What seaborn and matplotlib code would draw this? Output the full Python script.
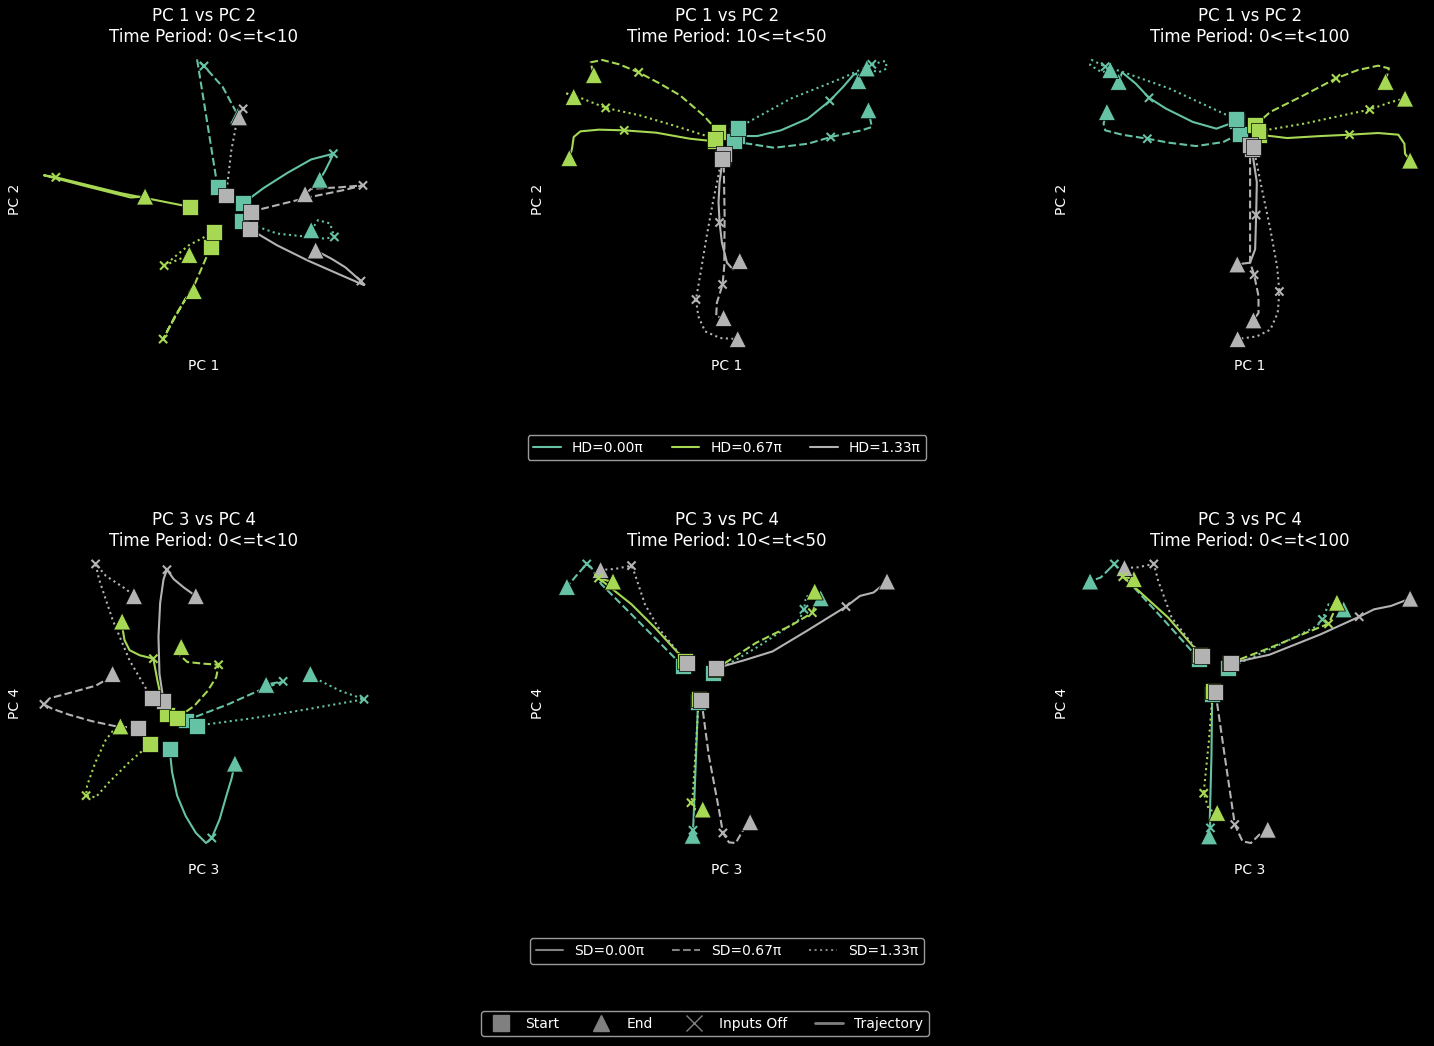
import matplotlib
matplotlib.use("Agg")
import numpy as np
import pandas as pd
import matplotlib.pyplot as plt
import seaborn as sns
from matplotlib.lines import Line2D

# ---------------- data ----------------
HD_LABELS = ["HD=0.00π", "HD=0.67π", "HD=1.33π"]
SD_LABELS = ["SD=0.00π", "SD=0.67π", "SD=1.33π"]
HD_COLORS = ["#66c2a5", "#a6d854", "#b3b3b3"]
SD_DASHES = ["", (3.7, 1.6), (1, 1.65)]
PERIODS = ["0<=t<10", "10<=t<50", "0<=t<100"]
ROW_PCS = [("PC 1", "PC 2"), ("PC 3", "PC 4")]

# Trajectory order in each panel: (HD0,SD0),(HD0,SD1),(HD0,SD2),(HD1,SD0),...,(HD2,SD2)
# PC scores (arbitrary units, second coordinate plotted on an inverted axis)
tl_paths = [
    [(660, 455), (720, 410), (790, 365), (860, 325), (925, 308), (915, 330), (900, 360), (885, 385)],
    [(585, 408), (560, 250), (525, 30), (545, 48), (600, 110), (645, 195)],
    [(655, 508), (760, 545), (900, 560), (928, 555), (915, 515), (880, 505), (860, 535)],
    [(505, 466), (300, 425), (110, 378), (75, 372), (200, 405), (330, 438), (372, 435)],
    [(565, 585), (520, 690), (460, 790), (425, 858), (445, 820), (490, 740), (515, 715)],
    [(575, 540), (500, 580), (440, 630), (428, 640), (470, 622), (502, 608)],
    [(680, 532), (760, 580), (850, 625), (940, 665), (1015, 698), (1006, 686), (960, 645), (920, 620), (873, 595)],
    [(682, 480), (850, 438), (960, 415), (1012, 402), (940, 408), (860, 412), (842, 428)],
    [(610, 432), (625, 300), (640, 220), (660, 175), (648, 200)],
]
tl_off = [4, 3, 3, 2, 3, 3, 5, 3, 3]

tm_paths = [
    [(590, 262), (650, 262), (720, 245), (800, 210), (865, 157), (905, 115), (935, 80), (945, 75), (950, 98)],
    [(580, 278), (700, 297), (800, 285), (868, 265), (960, 245), (990, 235), (980, 185)],
    [(592, 238), (750, 150), (900, 90), (990, 48), (1030, 38), (1035, 60), (1010, 72), (975, 60)],
    [(525, 278), (450, 270), (350, 252), (255, 245), (180, 243), (125, 248), (105, 265), (100, 300), (92, 328)],
    [(535, 250), (490, 200), (420, 140), (360, 105), (298, 72), (240, 48), (190, 35), (155, 42), (165, 80)],
    [(525, 270), (400, 230), (300, 200), (200, 178), (130, 150), (85, 135), (105, 145)],
    [(548, 325), (538, 400), (535, 460), (538, 520), (545, 580), (560, 640), (578, 660), (598, 635)],
    [(550, 315), (553, 500), (552, 650), (547, 705), (530, 760), (528, 800), (550, 805)],
    [(545, 330), (520, 450), (500, 560), (480, 680), (468, 750), (475, 800), (495, 845), (540, 865), (592, 868)],
]
tm_off = [4, 3, 3, 3, 4, 3, 3, 3, 4]

tr_paths = [
    [(500, 218), (440, 240), (370, 220), (290, 180), (240, 148), (200, 105), (160, 72), (150, 100)],
    [(510, 255), (460, 280), (380, 292), (300, 282), (235, 270), (160, 258), (110, 245), (105, 225), (115, 190)],
    [(498, 212), (300, 120), (160, 70), (110, 55), (70, 35), (65, 50), (100, 72), (125, 65)],
    [(568, 258), (650, 268), (750, 262), (835, 258), (920, 253), (980, 258), (998, 285), (1000, 315), (1015, 335)],
    [(555, 230), (600, 190), (700, 140), (795, 90), (860, 65), (920, 52), (952, 60), (942, 100)],
    [(565, 248), (700, 225), (895, 183), (960, 160), (1000, 150)],
    [(545, 300), (560, 400), (558, 498), (555, 600), (540, 640), (502, 645)],
    [(540, 290), (540, 500), (540, 640), (552, 676), (565, 740), (565, 790), (550, 812)],
    [(550, 295), (575, 420), (600, 540), (620, 650), (627, 726), (622, 790), (600, 840), (560, 860), (503, 868)],
]
tr_off = [4, 4, 3, 3, 3, 2, 2, 3, 4]

bl_paths = [
    [(448, 582), (455, 650), (470, 720), (495, 780), (525, 830), (555, 860), (572, 845), (595, 790), (615, 720), (630, 670), (640, 625)],
    [(495, 498), (620, 450), (720, 405), (782, 382), (740, 390), (732, 392)],
    [(528, 513), (700, 490), (850, 465), (1020, 435), (950, 410), (880, 375), (862, 360)],
    [(440, 480), (425, 440), (412, 380), (400, 315), (360, 305), (330, 290), (315, 260), (310, 230), (308, 205)],
    [(470, 490), (520, 455), (560, 410), (585, 370), (592, 333), (550, 330), (500, 325), (478, 305), (482, 280)],
    [(390, 568), (330, 620), (270, 680), (230, 725), (202, 720), (205, 690), (230, 620), (260, 555), (280, 530), (303, 515)],
    [(430, 440), (418, 360), (415, 250), (420, 150), (430, 80), (440, 52), (460, 80), (490, 105), (525, 130)],
    [(355, 520), (290, 515), (220, 500), (150, 480), (100, 462), (78, 450), (95, 432), (140, 420), (230, 395), (265, 375), (280, 360)],
    [(395, 432), (330, 320), (280, 200), (240, 80), (230, 35), (260, 70), (320, 110), (343, 130)],
]
bl_off = [6, 3, 3, 3, 4, 4, 5, 5, 4]

bm_paths = [
    [(478, 440), (472, 600), (465, 780), (463, 822), (462, 838)],
    [(432, 333), (300, 200), (190, 90), (160, 40), (147, 30), (120, 60), (88, 98)],
    [(522, 355), (650, 280), (780, 195), (793, 165), (800, 125), (843, 132)],
    [(440, 318), (350, 220), (280, 150), (182, 72), (210, 80), (225, 82)],
    [(530, 343), (650, 265), (760, 210), (818, 175), (830, 140), (825, 112)],
    [(480, 432), (470, 600), (462, 720), (457, 740), (470, 760), (492, 760)],
    [(532, 340), (620, 315), (700, 290), (800, 230), (918, 157), (960, 125), (1000, 115), (1040, 82)],
    [(488, 435), (510, 600), (540, 760), (552, 830), (570, 858), (590, 860), (610, 825), (633, 798)],
    [(445, 325), (360, 220), (320, 150), (290, 60), (280, 35), (230, 45), (188, 48)],
]
bm_off = [3, 4, 3, 3, 3, 3, 4, 3, 4]

br_paths = [
    [(430, 418), (428, 600), (423, 790), (425, 815), (421, 840)],
    [(390, 312), (290, 200), (180, 80), (140, 30), (100, 70), (68, 82)],
    [(478, 340), (620, 275), (740, 215), (757, 195), (775, 150), (820, 165)],
    [(395, 300), (300, 190), (190, 90), (165, 68), (185, 72), (198, 75)],
    [(482, 325), (600, 280), (720, 230), (775, 208), (790, 175), (800, 145)],
    [(432, 408), (420, 560), (407, 690), (405, 712), (420, 760), (445, 770)],
    [(485, 325), (600, 300), (750, 240), (866, 187), (910, 165), (960, 155), (1017, 133)],
    [(440, 412), (470, 620), (495, 790), (497, 805), (520, 855), (545, 860), (570, 835), (595, 820)],
    [(400, 305), (310, 190), (270, 80), (257, 30), (210, 40), (170, 42)],
]
br_off = [3, 3, 3, 3, 3, 3, 3, 3, 3]

PANELS = [
    [(tl_paths, tl_off), (tm_paths, tm_off), (tr_paths, tr_off)],
    [(bl_paths, bl_off), (bm_paths, bm_off), (br_paths, br_off)],
]

# ---------------- style ----------------
sns.set_style("dark", rc={
    "axes.facecolor": "black", "figure.facecolor": "black",
    "text.color": "white", "axes.labelcolor": "white",
    "axes.grid": False,
})
plt.rcParams["font.family"] = ["DejaVu Sans"]

fig = plt.figure(figsize=(14.34, 10.46), dpi=100)
fig.patch.set_facecolor("black")

col_left = [0.0195, 0.3842, 0.749]
row_bottom = [0.6625, 0.1807]
ax_w, ax_h = 0.2455, 0.2935

palette = dict(zip(HD_LABELS, HD_COLORS))
dash_map = dict(zip(SD_LABELS, SD_DASHES))

for r in range(2):
    for c in range(3):
        paths, offs = PANELS[r][c]
        ax = fig.add_axes([col_left[c], row_bottom[r], ax_w, ax_h])
        ax.set_facecolor("black")
        rows = []
        for k, pts in enumerate(paths):
            hd = HD_LABELS[k // 3]
            sd = SD_LABELS[k % 3]
            for j, (x, y) in enumerate(pts):
                rows.append({"x": x, "y": y, "hd": hd, "sd": sd, "traj": k, "step": j})
        df = pd.DataFrame(rows)
        sns.lineplot(data=df, x="x", y="y", hue="hd", style="sd", units="traj",
                     estimator=None, sort=False, palette=palette, dashes=dash_map,
                     hue_order=HD_LABELS, style_order=SD_LABELS,
                     linewidth=1.5, legend=False, ax=ax, zorder=2)
        starts = pd.DataFrame([{"x": p[0][0], "y": p[0][1], "hd": HD_LABELS[k // 3]}
                               for k, p in enumerate(paths)])
        ends = pd.DataFrame([{"x": p[-1][0], "y": p[-1][1], "hd": HD_LABELS[k // 3]}
                             for k, p in enumerate(paths)])
        sns.scatterplot(data=starts, x="x", y="y", hue="hd", palette=palette,
                        marker="s", s=130, edgecolor="black", linewidth=0.5,
                        legend=False, ax=ax, zorder=3)
        sns.scatterplot(data=ends, x="x", y="y", hue="hd", palette=palette,
                        marker="^", s=150, edgecolor="black", linewidth=0.5,
                        legend=False, ax=ax, zorder=3)
        ox = [p[o][0] for p, o in zip(paths, offs)]
        oy = [p[o][1] for p, o in zip(paths, offs)]
        oc = [HD_COLORS[k // 3] for k in range(len(paths))]
        ax.scatter(ox, oy, marker="x", s=35, c=oc, linewidths=1.5, zorder=4)
        ax.invert_yaxis()
        ax.set_xticks([])
        ax.set_yticks([])
        for sp in ax.spines.values():
            sp.set_visible(False)
        xl, yl = ROW_PCS[r]
        ax.set_xlabel(xl, fontsize=10, color="white")
        ax.set_ylabel(yl, fontsize=10, color="white")
        ax.set_title(f"{xl} vs {yl}\nTime Period: {PERIODS[c]}", fontsize=12,
                     color="white", pad=3)

leg_kw = dict(frameon=True, facecolor="black", edgecolor="#9a9a9a", fontsize=10,
              labelcolor="white", framealpha=1.0, loc="center")

hd_handles = [Line2D([], [], color=col, lw=1.5) for col in HD_COLORS]
fig.legend(hd_handles, HD_LABELS, ncol=3, bbox_to_anchor=(0.507, 0.572), **leg_kw)

sd_handles = [Line2D([], [], color="gray", lw=1.5, linestyle=ls) for ls in ["-", "--", ":"]]
fig.legend(sd_handles, SD_LABELS, ncol=3, bbox_to_anchor=(0.507, 0.0908), **leg_kw)

mk_handles = [
    Line2D([], [], marker="s", color="gray", linestyle="None", markersize=11),
    Line2D([], [], marker="^", color="gray", linestyle="None", markersize=11),
    Line2D([], [], marker="x", color="gray", linestyle="None", markersize=11),
    Line2D([], [], color="gray", lw=2),
]
fig.legend(mk_handles, ["Start", "End", "Inputs Off", "Trajectory"], ncol=4,
           bbox_to_anchor=(0.4916, 0.0215), **leg_kw)

fig.savefig("out.png", dpi=100, facecolor="black")
